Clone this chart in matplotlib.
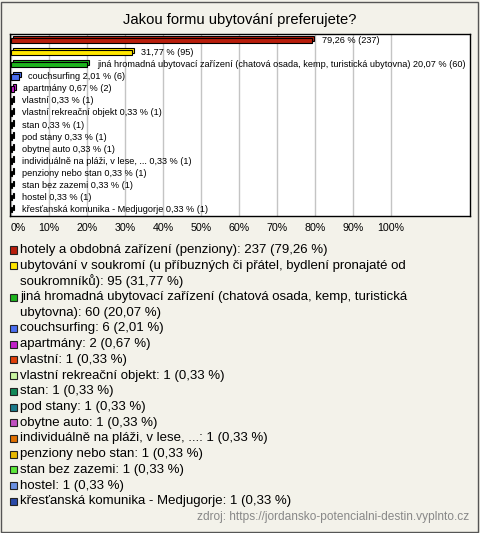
import matplotlib
matplotlib.use("Agg")
import matplotlib.pyplot as plt
from matplotlib.patches import Rectangle

plt.rcParams["font.family"] = ["Liberation Sans", "DejaVu Sans"]

# data
names = [
    "hotely a obdobná zařízení (penziony)",
    "ubytování v soukromí (u příbuzných či přátel, bydlení pronajaté od soukromníků)",
    "jiná hromadná ubytovací zařízení (chatová osada, kemp, turistická ubytovna)",
    "couchsurfing",
    "apartmány",
    "vlastní",
    "vlastní rekreační objekt",
    "stan",
    "pod stany",
    "obytne auto",
    "individuálně na pláži, v lese, ...",
    "penziony nebo stan",
    "stan bez zazemi",
    "hostel",
    "křesťanská komunika - Medjugorje",
]
counts = [237, 95, 60, 6, 2, 1, 1, 1, 1, 1, 1, 1, 1, 1, 1]
percents = [79.26, 31.77, 20.07, 2.01, 0.67, 0.33, 0.33, 0.33, 0.33, 0.33, 0.33, 0.33, 0.33, 0.33, 0.33]
# bar labels: first two bars show only the value
show_name = [False, False] + [True] * 13
colors = [
    "#b81e0c", "#ffe600", "#1db41d", "#4a6ef0", "#c21fc9",
    "#e0400a", "#c8f5a0", "#138a5a", "#1a7a8a", "#c050c0",
    "#e07000", "#e6b800", "#5de83a", "#6a90e0", "#2a4aa8",
]
# legend lines (long entries wrapped like in the original)
legend_lines = [
    ["hotely a obdobná zařízení (penziony): 237 (79,26 %)"],
    ["ubytování v soukromí (u příbuzných či přátel, bydlení pronajaté od",
     "soukromníků): 95 (31,77 %)"],
    ["jiná hromadná ubytovací zařízení (chatová osada, kemp, turistická",
     "ubytovna): 60 (20,07 %)"],
] + [[f"{n}: {c} ({p:.2f} %)".replace(".", ",").replace(",,,", "...")] for n, c, p in zip(names[3:], counts[3:], percents[3:])]

W, H = 480, 533
bg = "#f3f2ea"
fig = plt.figure(figsize=(W / 100, H / 100), dpi=100, facecolor=bg)
fig.patches.append(Rectangle((1 / W, 1 / H), 477 / W, 530 / H, transform=fig.transFigure,
                             fill=False, edgecolor="#555555", linewidth=1))

fig.text(0.5, 1 - 20 / H, "Jakou formu ubytování preferujete?", ha="center", va="center", fontsize=10.6)

ax = fig.add_axes([10 / W, 1 - 216 / H, 460 / W, 182 / H])
ax.set_facecolor("white")
px = 10 / 38  # data units per pixel in x
ax.set_xlim(-1 * px, 459 * px)
ax.set_ylim(len(names) - 0.42, -0.58)
ax.set_xticks(range(0, 101, 10))
ax.set_xticklabels([f"{t}%" for t in range(0, 101, 10)], fontsize=7.7)
ax.get_xticklabels()[0].set_ha("left")
ax.tick_params(axis="x", length=0, pad=5)
ax.set_yticks([])
ax.grid(axis="x", color="#c4c4c4", linewidth=1)
ax.set_axisbelow(True)
for s in ax.spines.values():
    s.set_color("black")
    s.set_linewidth(1)

ys = list(range(len(names)))
dx, dy = 2 * px, 2 / 12
ax.barh([y - dy for y in ys], percents, left=dx, height=0.42, color=colors,
        edgecolor="black", linewidth=0.8, zorder=2)
ax.barh(ys, percents, height=0.42, color=colors, edgecolor="black", linewidth=0.8, zorder=3)

for y, n, p, c, sn in zip(ys, names, percents, counts, show_name):
    val = f"{p:.2f} % ({c})".replace(".", ",")
    label = f"{n} {val}" if sn else val
    ax.annotate(label, (p, y), xytext=(7, 0), textcoords="offset points",
                va="center", ha="left", fontsize=6.6, zorder=4)

# legend, drawn by hand so wrapped entries keep the marker on the first line
line_h = 15.7
row = 0
for lines, col in zip(legend_lines, colors):
    y0 = 250 + row * line_h
    fig.patches.append(Rectangle((10 / W, 1 - (y0 + 3.5) / H), 7 / W, 7 / H, transform=fig.transFigure,
                                 facecolor=col, edgecolor="#222222", linewidth=0.8))
    for i, ln in enumerate(lines):
        fig.text(20 / W, 1 - (y0 + i * line_h) / H, ln, ha="left", va="center", fontsize=9.5)
    row += len(lines)

fig.text(469 / W, 1 - 517 / H, "zdroj: https://jordansko-potencialni-destin.vyplnto.cz",
         ha="right", va="center", fontsize=8.6, color="#888888")

fig.savefig("out.png", dpi=100, facecolor=bg)
